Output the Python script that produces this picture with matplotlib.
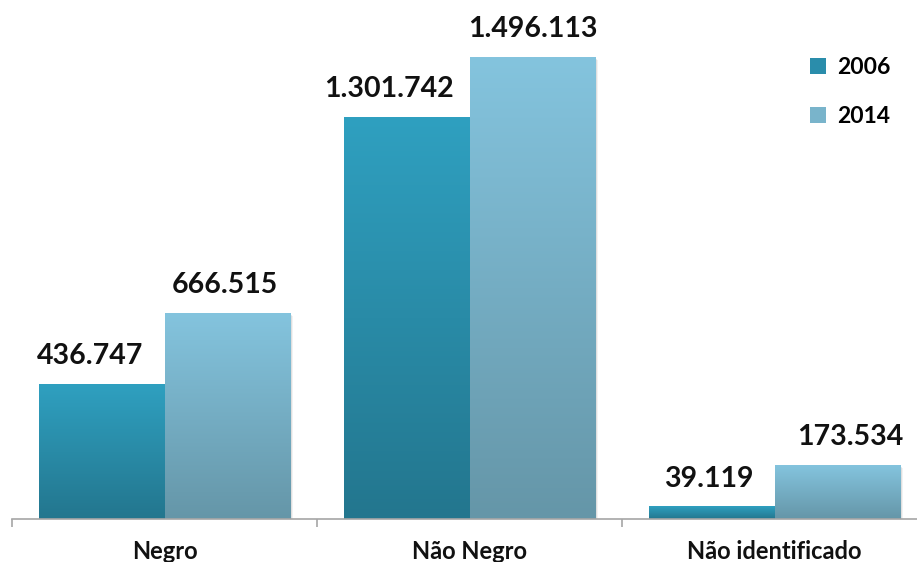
import numpy as np
import matplotlib.pyplot as plt
from matplotlib.colors import to_rgb
from matplotlib.patches import Rectangle
from matplotlib.transforms import ScaledTranslation

categories = ["Negro", "Não Negro", "Não identificado"]
years = ["2006", "2014"]
values_2006 = [436747, 1301742, 39119]
values_2014 = [666515, 1496113, 173534]

# top / bottom colours of the vertical gradient for each series
grad_2006 = ("#2FA0C0", "#23768E")
grad_2014 = ("#84C4DE", "#6596A8")
legend_2006 = "#2A8DAB"
legend_2014 = "#79B4CB"

# small horizontal nudges (px) so the value labels don't collide
nudge_2006 = [-11, -18, -3]
nudge_2014 = [-3, 0, 13]

plt.rcParams['font.family'] = ['Lato', 'DejaVu Sans']
plt.rcParams['font.weight'] = 'bold'


def fmt(v):
    return f"{v:,}".replace(",", ".")


def gradient_fill(ax, patch, top, bottom):
    x, w, h = patch.get_x(), patch.get_width(), patch.get_height()
    t, b = np.array(to_rgb(top)), np.array(to_rgb(bottom))
    s = np.linspace(0, 1, 256)[:, None]
    img = (b + (t - b) * s)[:, None, :]
    # soft drop shadow to the lower right
    for k, a in [(3, 0.05), (2, 0.08), (1, 0.10)]:
        off = ScaledTranslation(k / 100, -k / 100, ax.figure.dpi_scale_trans)
        ax.add_patch(Rectangle((x, 0), w, h, facecolor="black", alpha=a,
                               edgecolor="none", zorder=1,
                               transform=ax.transData + off))
    ax.imshow(img, extent=(x, x + w, 0, h), origin="lower", aspect="auto",
              interpolation="bilinear", zorder=2)


fig = plt.figure(figsize=(9.17, 5.62), dpi=100)
ax = fig.add_axes([12 / 917, 43 / 562, 915 / 917, 509 / 562])

x = np.arange(len(categories))
w = 0.413
bars_a = ax.bar(x - w / 2, values_2006, w, color=legend_2006, label=years[0], zorder=0)
bars_b = ax.bar(x + w / 2, values_2014, w, color=legend_2014, label=years[1], zorder=0)

for bars, vals, grad, nudge in [(bars_a, values_2006, grad_2006, nudge_2006),
                                (bars_b, values_2014, grad_2014, nudge_2014)]:
    for p, v, dx in zip(bars, vals, nudge):
        gradient_fill(ax, p, *grad)
        ax.annotate(fmt(v), (p.get_x() + p.get_width() / 2, v),
                    xytext=(dx * 0.72, 14.5), textcoords="offset points",
                    ha="center", va="baseline", fontsize=20.5,
                    fontweight="bold", color="#111111", zorder=4)

ax.set_xlim(-0.5, 2.5)
ax.set_ylim(0, 1650000)

for side in ["top", "right", "left"]:
    ax.spines[side].set_visible(False)
ax.spines["bottom"].set_color("#A6A6A6")
ax.spines["bottom"].set_linewidth(1.2)
ax.spines["bottom"].set_zorder(5)
ax.set_yticks([])

ax.set_xticks(x)
ax.set_xticklabels(categories, fontsize=17, fontweight="bold", color="#111111")
ax.tick_params(axis="x", which="major", length=0, pad=15)
ax.set_xticks([-0.5, 0.5, 1.5, 2.5], minor=True)
ax.tick_params(axis="x", which="minor", length=6, width=1.2, color="#A6A6A6")

leg = fig.legend(handles=[bars_a, bars_b], labels=years, loc="upper left",
                 bbox_to_anchor=(789 / 917, 1 - 36 / 562), frameon=False,
                 prop={"weight": "bold", "size": 16.5},
                 handlelength=0.7, handleheight=0.7, handletextpad=0.5,
                 labelspacing=1.25)

fig.savefig("out.png", dpi=100)
